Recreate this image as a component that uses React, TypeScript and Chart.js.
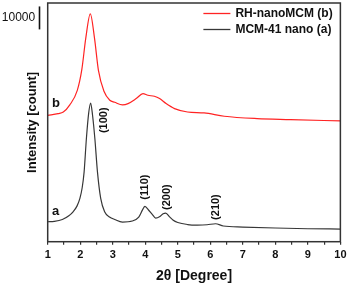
import { useEffect, useRef } from "react";
import { Chart, registerables } from "chart.js";

Chart.register(...registerables);

// ---- data ----
const seriesLabels = ["RH-nanoMCM (b)", "MCM-41 nano (a)"];
const seriesTags = ["b", "a"];
const seriesColors = ["rgb(255,35,35)", "rgb(55,55,55)"];

// RH-nanoMCM (b)
const thetaB = [1.0, 1.32, 1.48, 1.68, 1.91, 2.05, 2.17, 2.31, 2.44, 2.56, 2.73, 2.91, 3.06, 3.3, 3.47, 3.72, 3.93, 4.08, 4.28, 4.44, 4.64, 4.9, 5.3, 5.81, 6.43, 7.44, 8.47, 10.0];
const countsB = [55000, 55830, 56500, 59600, 65960, 75090, 88570, 99300, 88570, 74650, 65520, 61610, 60740, 59650, 60180, 62350, 64520, 63790, 63350, 62350, 60180, 58000, 56520, 56090, 54650, 53650, 53220, 52610];

// MCM-41 nano (a)
const thetaA = [1.0, 1.2, 1.45, 1.65, 1.78, 1.9, 1.99, 2.06, 2.12, 2.19, 2.26, 2.32, 2.38, 2.45, 2.53, 2.63, 2.75, 2.9, 3.06, 3.3, 3.6, 3.8, 3.92, 3.99, 4.1, 4.22, 4.32, 4.45, 4.55, 4.63, 4.75, 4.85, 5.0, 5.3, 5.6, 5.9, 6.16, 6.4, 7.0, 8.0, 9.0, 10.0];
const countsA = [8700, 8850, 9650, 11300, 13040, 15500, 18870, 23500, 30440, 44960, 56000, 60440, 55000, 44960, 30440, 18870, 13040, 10800, 9700, 8570, 9000, 10740, 14000, 15390, 13800, 11800, 10300, 11000, 12200, 12480, 10800, 9440, 8350, 7480, 7260, 7390, 7830, 6830, 6390, 5960, 5650, 5520];

// tag positions for "a"/"b"
const tagTheta = [1.13, 1.13];
const tagCounts = [60300, 13130];

// peak (hkl) annotations
const peakLabels = ["(100)", "(110)", "(200)", "(210)"];
const peakTheta = [2.72, 3.99, 4.68, 6.17];
const peakCounts = [52900, 23780, 19430, 15090];

const xMin = 1;
const xMax = 10;
const yMax = 104000;
const scaleBarCounts = 10000;
const scaleBarTop = 102500;

const FONT = 'Arial, "Liberation Sans", sans-serif';

const decorPlugin = {
  id: "decor",
  afterDatasetsDraw(chart: any) {
    const { ctx, chartArea: ca, scales } = chart;
    const x = scales.x;
    const y = scales.y;
    ctx.save();
    // frame
    ctx.strokeStyle = "#333";
    ctx.lineWidth = 1.5;
    ctx.strokeRect(ca.left, ca.top, ca.right - ca.left, ca.bottom - ca.top);

    // scale bar
    const yTop = y.getPixelForValue(scaleBarTop);
    const yBot = y.getPixelForValue(scaleBarTop - scaleBarCounts);
    ctx.beginPath();
    ctx.moveTo(ca.left - 8.2, yTop);
    ctx.lineTo(ca.left - 8.2, yBot);
    ctx.strokeStyle = "#111";
    ctx.lineWidth = 1.6;
    ctx.stroke();
    ctx.fillStyle = "#111";
    ctx.font = `12px ${FONT}`;
    ctx.textAlign = "right";
    ctx.textBaseline = "middle";
    ctx.fillText(String(scaleBarCounts), ca.left - 12.5, (yTop + yBot) / 2 - 0.5);

    // legend
    ctx.font = `bold 12px ${FONT}`;
    ctx.textAlign = "left";
    chart.data.datasets.forEach((ds: any, i: number) => {
      const cy = ca.top + 10.5 + i * 16;
      ctx.beginPath();
      ctx.moveTo(ca.right - 137, cy);
      ctx.lineTo(ca.right - 110, cy);
      ctx.strokeStyle = ds.borderColor;
      ctx.lineWidth = 1.3;
      ctx.stroke();
      ctx.fillStyle = "#111";
      ctx.fillText(ds.label, ca.right - 105, cy + 0.5);
    });

    // series tags
    ctx.font = `bold 13px ${FONT}`;
    ctx.fillStyle = "#111";
    seriesTags.forEach((t, i) => {
      ctx.fillText(t, x.getPixelForValue(tagTheta[i]), y.getPixelForValue(tagCounts[i]));
    });

    // peak labels (rotated)
    ctx.font = `bold 11px ${FONT}`;
    ctx.textAlign = "center";
    peakLabels.forEach((t, i) => {
      ctx.save();
      ctx.translate(x.getPixelForValue(peakTheta[i]), y.getPixelForValue(peakCounts[i]));
      ctx.rotate(-Math.PI / 2);
      ctx.fillText(t, 0, 0);
      ctx.restore();
    });
    ctx.restore();
  },
};

export default function App() {
  const ref = useRef<HTMLCanvasElement>(null);
  useEffect(() => {
    if (!ref.current) return;
    const chart = new Chart(ref.current, {
      type: "line",
      data: {
        datasets: [
          {
            label: seriesLabels[0],
            data: thetaB.map((t, i) => ({ x: t, y: countsB[i] })),
            borderColor: seriesColors[0],
            borderWidth: 1.2,
            pointRadius: 0,
            cubicInterpolationMode: "monotone",
            fill: false,
          },
          {
            label: seriesLabels[1],
            data: thetaA.map((t, i) => ({ x: t, y: countsA[i] })),
            borderColor: seriesColors[1],
            borderWidth: 1.2,
            pointRadius: 0,
            cubicInterpolationMode: "monotone",
            fill: false,
          },
        ],
      },
      options: {
        responsive: false,
        animation: false,
        devicePixelRatio: 1,
        layout: { padding: { top: 3, right: 8.3, bottom: 0, left: 0 } },
        plugins: { legend: { display: false }, tooltip: { enabled: false } },
        scales: {
          x: {
            type: "linear",
            min: xMin,
            max: xMax,
            afterFit: (s: any) => {
              s.height = 44.3;
            },
            ticks: {
              stepSize: 0.5,
              autoSkip: false,
              maxRotation: 0,
              padding: 3.5,
              color: "#111",
              font: { family: FONT, size: 11, weight: "bold" },
              callback: (v: any) => (Number.isInteger(v) ? String(v) : ""),
            },
            grid: {
              drawOnChartArea: false,
              drawTicks: true,
              tickLength: 3,
              color: "#333",
              lineWidth: 1.2,
            },
            border: { display: false },
            title: {
              display: true,
              text: "2θ [Degree]",
              color: "#111",
              font: { family: FONT, size: 14, weight: "bold" },
              padding: { top: 0, bottom: 1.5 },
            },
          },
          y: {
            type: "linear",
            min: 0,
            max: yMax,
            afterFit: (s: any) => {
              s.width = 47.7;
            },
            ticks: { display: false },
            grid: { display: false },
            border: { display: false },
            title: {
              display: true,
              text: "Intensity [count]",
              color: "#111",
              font: { family: FONT, size: 13, weight: "bold" },
              padding: { top: 25, bottom: 0 },
            },
          },
        },
      },
      plugins: [decorPlugin],
    });
    return () => chart.destroy();
  }, []);
  return (
    <div style={{ position: "fixed", left: 0, top: 0, width: 350, height: 286 }}>
      <canvas ref={ref} width={350} height={286} style={{ display: "block" }} />
    </div>
  );
}
